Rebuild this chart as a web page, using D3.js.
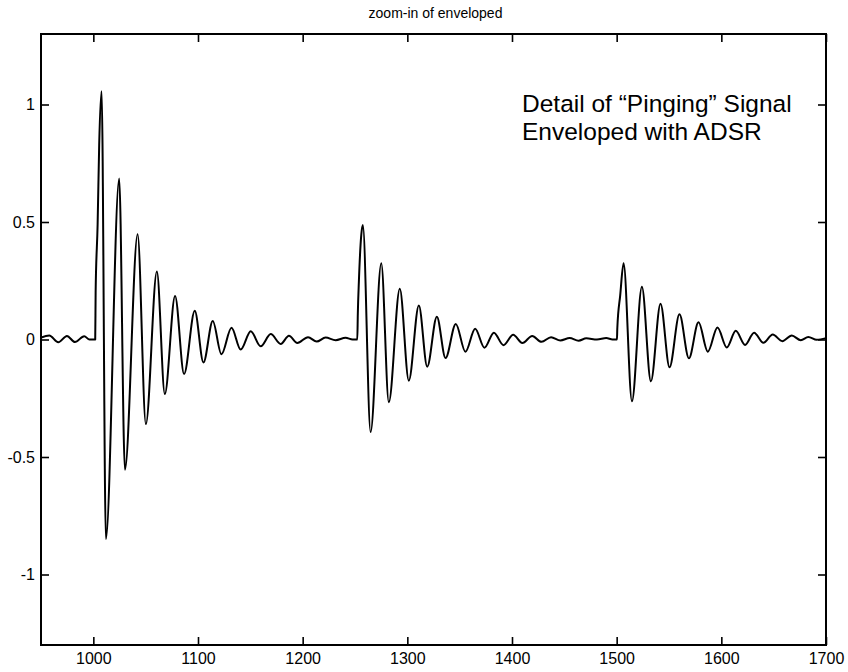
<!DOCTYPE html>
<html>
<head>
<meta charset="utf-8">
<script src="https://cdn.jsdelivr.net/npm/d3@7"></script>
<style>
  html, body { margin: 0; padding: 0; background: #fff; }
  svg { display: block; font-family: "Liberation Sans", Arial, sans-serif; }
</style>
</head>
<body>
<svg id="chart" width="848" height="672"></svg>
<script>
// Signal trace, split into segments: [sample index, amplitude]
const leadIn = [[950, 0.008], [957.9, 0.017], [966.5, -0.012], [974.8, 0.015], [982.4, -0.011],
  [991.3, 0.014], [996.3, 0], [1001.8, 0]];

const ping1 = [[1002.2, 0.20], [1004.1, 0.49], [1005.6, 0.83], [1007.9, 1.056], [1012.0, -0.849],
  [1024.7, 0.685], [1030.2, -0.554], [1042.3, 0.448], [1050.2, -0.36], [1060.7, 0.289],
  [1068.3, -0.232], [1078.1, 0.185], [1086.7, -0.147], [1096.9, 0.122], [1105.2, -0.098],
  [1114.1, 0.079], [1122.4, -0.063], [1132.0, 0.05], [1140.8, -0.043], [1150.4, 0.035],
  [1159.9, -0.029], [1169.5, 0.023], [1179.0, -0.019], [1186.9, 0.016], [1194.9, -0.015],
  [1205.1, 0.01], [1213.4, -0.009], [1221.9, 0.008], [1231.5, -0.003], [1241.0, 0.007],
  [1247.7, 0], [1252.2, 0]];

const ping2 = [[1252.7, 0.111], [1253.7, 0.246], [1256.0, 0.445], [1257.5, 0.487], [1264.9, -0.394],
  [1275.1, 0.324], [1282.3, -0.267], [1292.8, 0.216], [1301.4, -0.175], [1311.0, 0.145],
  [1319.0, -0.116], [1328.2, 0.097], [1336.5, -0.079], [1346.3, 0.066], [1355.5, -0.052],
  [1364.8, 0.046], [1373.7, -0.035], [1382.7, 0.029], [1391.8, -0.024], [1401.1, 0.02],
  [1409.9, -0.015], [1419.3, 0.015], [1428.2, -0.01], [1437.3, 0.01], [1446.2, -0.004],
  [1455.1, 0.006], [1463.6, -0.005], [1471.0, 0.005], [1481.2, 0], [1490.1, 0.006],
  [1496.0, 0], [1500.3, 0]];

const ping3 = [[1500.6, 0.047], [1503.4, 0.189], [1506.6, 0.324], [1514.6, -0.263], [1524.1, 0.224],
  [1532.7, -0.178], [1541.9, 0.152], [1550.5, -0.118], [1560.0, 0.107], [1569.0, -0.08],
  [1578.2, 0.073], [1587.1, -0.052], [1596.3, 0.051], [1605.2, -0.034], [1613.8, 0.037],
  [1622.7, -0.023], [1631.3, 0.029], [1640.2, -0.014], [1649.1, 0.021], [1658.3, -0.007],
  [1667.3, 0.017], [1675.9, -0.003], [1683.1, 0.011], [1691.1, -0.001], [1700, 0.006]];

const xTicks = [1000, 1100, 1200, 1300, 1400, 1500, 1600, 1700];
const yTicks = [-1, -0.5, 0, 0.5, 1];
const xDomain = [950, 1700];
const yDomain = [-1.3, 1.3];

const titleText = "zoom-in of enveloped";
const noteLines = ["Detail of \u201CPinging\u201D Signal", "Enveloped with ADSR"];

// Layout
const W = 848, H = 672;
const m = { left: 41, right: 22, top: 34, bottom: 27 };
const iw = W - m.left - m.right, ih = H - m.top - m.bottom;

const svg = d3.select("#chart");
const g = svg.append("g").attr("transform", `translate(${m.left},${m.top})`);

const x = d3.scaleLinear().domain(xDomain).range([0, iw]);
const y = d3.scaleLinear().domain(yDomain).range([ih, 0]);

const fmtY = d => String(d).replace("\u2212", "-");
const tickLen = 8;

// Axes with inward ticks on all four sides
const axB = d3.axisBottom(x).tickValues(xTicks).tickSize(-tickLen).tickPadding(8).tickFormat(d3.format("d"));
const axT = d3.axisTop(x).tickValues(xTicks).tickSize(-tickLen).tickFormat("");
const axL = d3.axisLeft(y).tickValues(yTicks).tickSize(-tickLen).tickPadding(6).tickFormat(fmtY);
const axR = d3.axisRight(y).tickValues(yTicks).tickSize(-tickLen).tickFormat("");

function styleAxis(sel) {
  sel.select(".domain").remove();
  sel.selectAll(".tick line").attr("stroke", "#000").attr("stroke-width", 1.6);
  sel.selectAll(".tick text").attr("fill", "#000").attr("font-size", 16)
    .attr("font-family", "'Liberation Sans', Arial, sans-serif");
}

g.append("g").attr("transform", `translate(0,${ih})`).call(axB).call(styleAxis);
g.append("g").call(axT).call(styleAxis);
g.append("g").call(axL).call(styleAxis);
g.append("g").attr("transform", `translate(${iw},0)`).call(axR).call(styleAxis);

// Frame
g.append("rect").attr("x", 0).attr("y", 0).attr("width", iw).attr("height", ih)
  .attr("fill", "none").attr("stroke", "#000").attr("stroke-width", 2);

// Signal trace
g.append("clipPath").attr("id", "plotClip")
  .append("rect").attr("width", iw).attr("height", ih);

const line = d3.line()
  .x(d => x(d[0]))
  .y(d => y(d[1]))
  .curve(d3.curveMonotoneX);

const trace = leadIn.concat(ping1, ping2, ping3);
g.append("path")
  .datum(trace)
  .attr("clip-path", "url(#plotClip)")
  .attr("fill", "none")
  .attr("stroke", "#000")
  .attr("stroke-width", 2)
  .attr("stroke-linejoin", "round")
  .attr("d", line);

// Title
svg.append("text")
  .attr("x", m.left + iw / 2 + 2)
  .attr("y", 18)
  .attr("text-anchor", "middle")
  .attr("font-size", 14)
  .attr("fill", "#000")
  .text(titleText);

// Annotation
const note = svg.append("text")
  .attr("x", 522)
  .attr("y", 112)
  .attr("font-size", 24.5)
  .attr("fill", "#000");
note.selectAll("tspan").data(noteLines).join("tspan")
  .attr("x", 522)
  .attr("dy", (d, i) => i === 0 ? 0 : 28)
  .text(d => d);
</script>
</body>
</html>
